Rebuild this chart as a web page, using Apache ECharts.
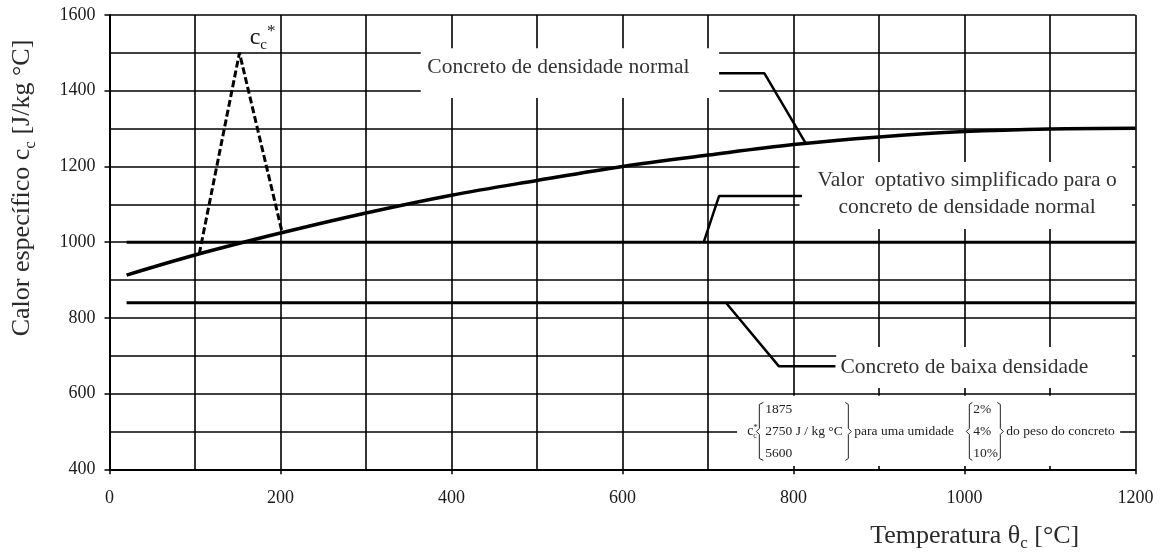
<!DOCTYPE html>
<html>
<head>
<meta charset="utf-8">
<title>Calor específico do concreto</title>
<script src="https://cdn.jsdelivr.net/npm/echarts@6/dist/echarts.min.js"></script>
<style>
  html, body { margin: 0; padding: 0; background: #fff; }
  #grafico { width: 1162px; height: 558px; }
</style>
</head>
<body>
<div id="grafico"></div>
<script>
// Calor específico do concreto de densidade normal em função da temperatura
const temperaturas = [20, 100, 200, 300, 400, 500, 600, 700, 800, 900, 1000, 1100, 1200];
const calorNormal  = [913, 966, 1024, 1077, 1124, 1163, 1200, 1230, 1258, 1278, 1292, 1299, 1301];

// Pico c_c* (umidade)
const picoTemperaturas = [105, 152, 202];
const picoValores      = [969, 1500, 1025];

// Valor optativo simplificado
const simplificadoTemperaturas = [20, 1200];
const simplificadoValores      = [1000, 1000];

// Concreto de baixa densidade
const baixaTemperaturas = [20, 1200];
const baixaValores      = [840, 840];

// Valores da nota de umidade
const picoOpcoes      = ['1875', '2750 J / kg °C', '5600'];
const umidadeOpcoes   = ['2%', '4%', '10%'];

const FONTE = "'Liberation Serif','Times New Roman',serif";
const pares = (xs, ys) => xs.map((x, i) => [x, ys[i]]);

// Caixas brancas atrás dos rótulos (interrompem a grade): [x0, y0, x1, y1]
const caixas = [
  [364, 1381, 713, 1512],
  [807, 1035, 1196, 1212],
  [850, 615, 1196, 723],
  [734, 409, 1182, 594]
];

// Linhas de chamada dos rótulos
const chamadaNormal = [[713, 1446], [766, 1446], [814, 1262]];
const chamadaSimplificado = [[695, 1000], [713, 1122], [810, 1122]];
const chamadaBaixa = [[721, 840], [783, 672], [849, 672]];

const chart = echarts.init(document.getElementById('grafico'), null, { renderer: 'canvas' });

const grade = { color: '#000', width: 1.6 };

function linha(dados, largura, extra) {
  return Object.assign({
    type: 'line',
    data: dados,
    symbol: 'none',
    showSymbol: false,
    silent: true,
    z: 3,
    lineStyle: { color: '#000', width: largura }
  }, extra || {});
}

chart.setOption({
  animation: false,
  backgroundColor: '#fff',
  grid: { left: 109.5, right: 26.5, top: 15, bottom: 88.7, containLabel: false },
  xAxis: {
    type: 'value', min: 0, max: 1200, interval: 200,
    axisLine: { lineStyle: { color: '#000', width: 2 } },
    axisTick: { show: true, length: 5, lineStyle: { color: '#000', width: 1.5 } },
    axisLabel: { color: '#1a1a1a', fontFamily: FONTE, fontSize: 18, margin: 20, formatter: v => String(v) },
    splitLine: { show: true, lineStyle: grade },
    minorTick: { show: true, splitNumber: 2, length: 0 },
    minorSplitLine: { show: true, lineStyle: grade }
  },
  yAxis: {
    type: 'value', min: 400, max: 1600, interval: 200,
    axisLine: { show: true, lineStyle: { color: '#000', width: 2 } },
    axisTick: { show: true, length: 5, lineStyle: { color: '#000', width: 1.5 } },
    axisLabel: { color: '#1a1a1a', fontFamily: FONTE, fontSize: 18, margin: 14, formatter: v => String(v) },
    splitLine: { show: true, lineStyle: grade },
    minorTick: { show: true, splitNumber: 2, length: 0 },
    minorSplitLine: { show: true, lineStyle: grade }
  },
  series: [
    {
      type: 'custom',
      z: 1,
      silent: true,
      data: caixas,
      encode: { x: [0, 2], y: [1, 3] },
      renderItem: function (params, api) {
        const a = api.coord([api.value(0), api.value(3)]);
        const b = api.coord([api.value(2), api.value(1)]);
        return {
          type: 'rect',
          shape: { x: a[0], y: a[1], width: b[0] - a[0], height: b[1] - a[1] },
          style: { fill: '#fff' }
        };
      }
    },
    linha(pares(temperaturas, calorNormal), 3.5, { smooth: 0.35 }),
    linha(pares(picoTemperaturas, picoValores), 3, { lineStyle: { color: '#000', width: 3, type: [7, 3] } }),
    linha(pares(simplificadoTemperaturas, simplificadoValores), 3),
    linha(pares(baixaTemperaturas, baixaValores), 3),
    linha(chamadaNormal, 2.5),
    linha(chamadaSimplificado, 2.5),
    linha(chamadaBaixa, 2.5)
  ]
});

// Rótulos, títulos dos eixos e nota de umidade
function anotacoes() {
  const P = (x, y) => chart.convertToPixel({ xAxisIndex: 0, yAxisIndex: 0 }, [x, y]);
  const els = [];
  const texto = (pos, estilo, extra) => {
    els.push(Object.assign({
      type: 'text', x: pos[0], y: pos[1], z: 10, silent: true,
      style: Object.assign({ fontFamily: FONTE, fill: '#2a2a2a', align: 'left', verticalAlign: 'middle' }, estilo)
    }, extra || {}));
  };
  const rico = (tam, cor) => ({
    m: { fontFamily: FONTE, fontSize: tam, lineHeight: Math.round(tam * 1.25), fill: cor, verticalAlign: 'middle' },
    s: { fontFamily: FONTE, fontSize: Math.round(tam * 0.64), lineHeight: Math.round(tam * 0.6), fill: cor, verticalAlign: 'bottom' },
    p: { fontFamily: FONTE, fontSize: Math.round(tam * 0.7), lineHeight: Math.round(tam * 0.6), fill: cor, verticalAlign: 'top' }
  });

  // títulos dos eixos
  texto(P(-102, 1143), {
    text: '{m|Calor específico c}{s|c}{m| [J/kg °C]}',
    rich: rico(26, '#2a2a2a'), align: 'center'
  }, { rotation: Math.PI / 2 });
  texto(P(1012, 224), {
    text: '{m|Temperatura θ}{s|c}{m| [°C]}',
    rich: rico(26, '#2a2a2a'), align: 'center'
  });

  // c_c*
  texto(P(164, 1540), { text: '{m|c}{s|c}{p|*}', rich: rico(24, '#1a1a1a') });

  // rótulos das curvas
  texto(P(525, 1463), { text: 'Concreto de densidade normal', fontSize: 21.5, align: 'center', fill: '#333' });
  texto(P(1003, 1128), {
    text: 'Valor  optativo simplificado para o\nconcreto de densidade normal',
    fontSize: 21.5, lineHeight: 27, align: 'center', fill: '#333'
  });
  texto(P(855, 670), { text: 'Concreto de baixa densidade', fontSize: 21.5, fill: '#333' });

  // nota de umidade
  const base = P(746, 500);
  const x0 = base[0], ym = base[1];
  const f = 13.5, cor = '#222', passo = 22;
  texto([x0, ym], { text: 'c', fontSize: 14, fill: cor });
  texto([x0 + 6, ym + 4], { text: 'c', fontSize: 8, fill: cor });
  texto([x0 + 6, ym - 4], { text: '*', fontSize: 9, fill: cor });
  const chave = (xn, xv, xh) => {
    els.push({
      type: 'polyline', z: 10, silent: true,
      shape: { points: [[xh, ym - 29], [xv, ym - 27], [xv, ym - 3], [xn, ym], [xv, ym + 3], [xv, ym + 27], [xh, ym + 29]] },
      style: { stroke: cor, lineWidth: 1, fill: null }
    });
  };
  chave(x0 + 9, x0 + 12, x0 + 16);
  picoOpcoes.forEach((t, i) => texto([x0 + 18, ym + (i - 1) * passo], { text: t, fontSize: f, fill: cor }));
  chave(x0 + 104, x0 + 101, x0 + 98);
  texto([x0 + 107, ym], { text: 'para uma umidade', fontSize: f, fill: cor });
  chave(x0 + 219, x0 + 222, x0 + 225);
  umidadeOpcoes.forEach((t, i) => texto([x0 + 226, ym + (i - 1) * passo], { text: t, fontSize: f, fill: cor }));
  chave(x0 + 256, x0 + 253, x0 + 250);
  texto([x0 + 259, ym], { text: 'do peso do concreto', fontSize: f, fill: cor });

  chart.setOption({ graphic: { elements: els } });
}
anotacoes();
</script>
</body>
</html>
